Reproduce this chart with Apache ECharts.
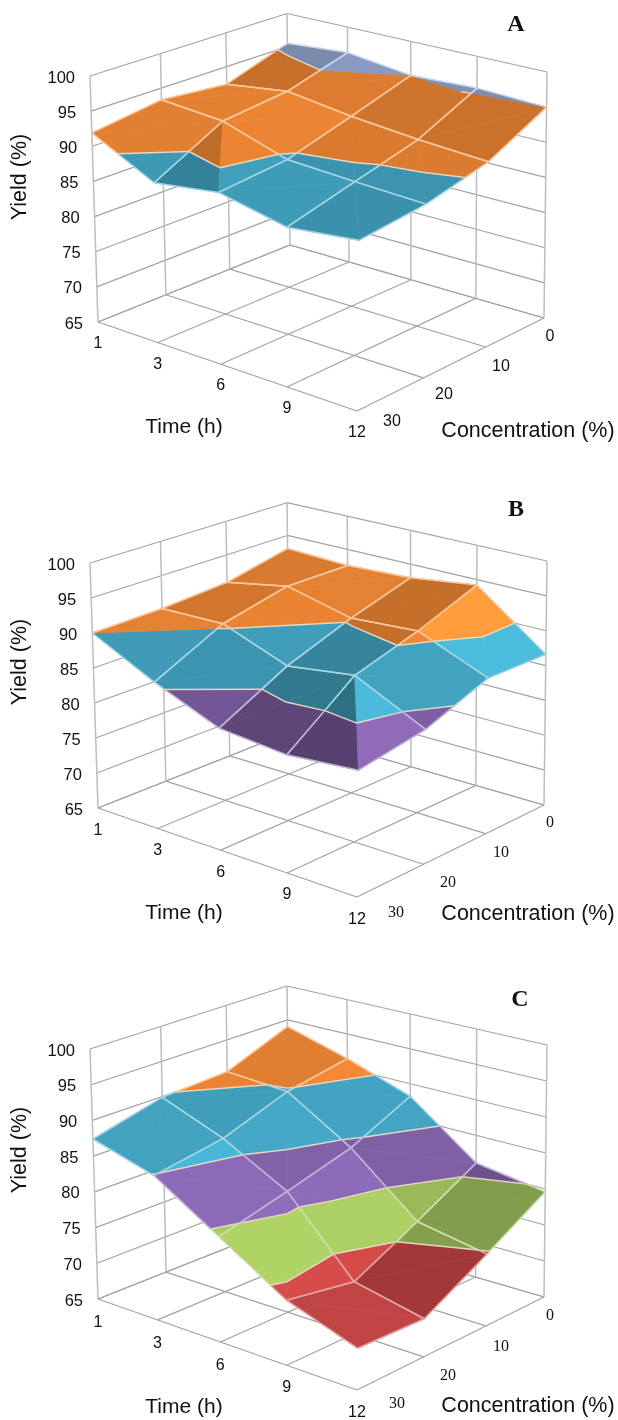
<!DOCTYPE html>
<html><head><meta charset="utf-8">
<style>html,body{margin:0;padding:0;background:#fff}#c{width:618px;height:1420px}</style>
<script src="https://cdn.jsdelivr.net/npm/echarts@6/dist/echarts.min.js"></script>
</head><body><div id="c"></div>
<script>
// Category and tick labels
const timeLabels = ['1','3','6','9','12'];
const concLabels = ['0','10','20','30'];
const yieldTicks = [65,70,75,80,85,90,95,100];
// Yield (%): one row per time, columns = concentration 0,10,20,30
const yieldA_t1  = [95.5,92.4,93.3,91.9];
const yieldA_t3  = [96.2,93.6,92.6,87.4];
const yieldA_t6  = [95.0,92.3,89.6,88.7];
const yieldA_t9  = [95.4,91.4,89.1,86.7];
const yieldA_t12 = [95.0,90.8,88.7,87.8];
const yieldB_t1  = [93.0,90.9,90.2,90.0];
const yieldB_t3  = [92.6,92.6,90.4,85.6];
const yieldB_t6  = [93.0,90.3,86.9,81.9];
const yieldB_t9  = [94.2,90.9,88.2,81.1];
const yieldB_t12 = [86.6,86.8,83.5,82.0];
const yieldC_t1  = [94.0,90.4,89.9,87.4];
const yieldC_t3  = [91.4,89.8,86.5,84.9];
const yieldC_t6  = [88.2,84.2,81.7,79.3];
const yieldC_t9  = [81.1,76.5,72.1,73.7];
const yieldC_t12 = [79.6,74.8,70.1,70.5];
const bandColors = ['#4F81BD','#BE4342','#9BBB59','#8060A6','#43A6C4','#F58A35','#97ABD4'];

// Projected box of each panel: corners [back, right, front, left]
const panels = [
 {name:'A', rows:[yieldA_t1,yieldA_t3,yieldA_t6,yieldA_t9,yieldA_t12],
  floor:[[290,245],[544,318],[357,411],[98,322]], top:[[287,13.5],[547,72],[360,149],[90,76]],
  letter:[516,25], concFont:'Liberation Sans', concSize:16,
  timeY:[344,365,386,409,433], concPos:[[550,337],[501,367],[444,395],[392,422]],
  timeTitle:[184,427], concTitle:[528,431], yTitle:[20,177]},
 {name:'B', rows:[yieldB_t1,yieldB_t3,yieldB_t6,yieldB_t9,yieldB_t12],
  floor:[[290,732],[544,805],[357,897],[98,808]], top:[[287,502.7],[547,561],[360,636],[90,563]],
  letter:[516,510], concFont:'Liberation Serif', concSize:16,
  timeY:[831,851,873,895,920], concPos:[[550,823],[501,853],[448,883],[396,913]],
  timeTitle:[184,913], concTitle:[528,914], yTitle:[20,662]},
 {name:'C', rows:[yieldC_t1,yieldC_t3,yieldC_t6,yieldC_t9,yieldC_t12],
  floor:[[290,1223],[544,1297],[357,1390],[98,1299]], top:[[287,986],[547,1045],[360,1124],[90,1049]],
  letter:[520,1000], concFont:'Liberation Serif', concSize:16,
  timeY:[1323,1344,1366,1388,1413], concPos:[[550,1316],[501,1347],[448,1376],[397,1404]],
  timeTitle:[184,1407], concTitle:[528,1406], yTitle:[20,1150]}
];

function homography(q){
  const [p0,p1,p2,p3]=q;
  const dx1=p1[0]-p2[0],dx2=p3[0]-p2[0],dx3=p0[0]-p1[0]+p2[0]-p3[0];
  const dy1=p1[1]-p2[1],dy2=p3[1]-p2[1],dy3=p0[1]-p1[1]+p2[1]-p3[1];
  const den=dx1*dy2-dx2*dy1;
  const g=(dx3*dy2-dx2*dy3)/den,h=(dx1*dy3-dx3*dy1)/den;
  const a=p1[0]-p0[0]+g*p1[0],b=p3[0]-p0[0]+h*p3[0],c=p0[0];
  const d=p1[1]-p0[1]+g*p1[1],e=p3[1]-p0[1]+h*p3[1],f=p0[1];
  return (u,v)=>{const w=g*u+h*v+1;return [(a*u+b*v+c)/w,(d*u+e*v+f)/w];};
}
const marks=[]; // fills, lines and texts in paint order
const gridColH='#a3a3a3', gridColV='#bdbdbd';
const rgb=h=>[1,3,5].map(k=>parseInt(h.substr(k,2),16));
const css=c=>'rgb('+c.map(x=>Math.round(Math.max(0,Math.min(255,x)))).join(',')+')';
function shade(hex,f){
  const e=f<=1?f:Math.min(1.13,1+(f-1)*3);
  return css(rgb(hex).map(x=>x*e));
}
const tint=(hex,m)=>css(rgb(hex).map(x=>x+(255-x)*m));
const L=(()=>{const l=[.65,-.55,.52];const n=Math.hypot(...l);return l.map(x=>x/n);})();
function clipBand(poly,lo,hi){
  const cut=(pts,val,keepAbove)=>{
    const out=[];
    for(let k=0;k<pts.length;k++){
      const a=pts[k],b=pts[(k+1)%pts.length];
      const ia=keepAbove?a[2]>=val:a[2]<=val, ib=keepAbove?b[2]>=val:b[2]<=val;
      if(ia) out.push(a);
      if(ia!==ib){const s=(val-a[2])/(b[2]-a[2]);out.push([a[0]+(b[0]-a[0])*s,a[1]+(b[1]-a[1])*s,val]);}
    }
    return out;
  };
  return cut(cut(poly,lo,true),hi,false);
}
panels.forEach(P=>{
  const Hf=homography(P.floor),Ht=homography(P.top);
  const proj=(i,j,val)=>{ // i = time index, j = concentration index
    const u=i/(timeLabels.length-1),v=j/(concLabels.length-1),w=(val-65)/35;
    const a=Hf(u,v),b=Ht(u,v);
    return [a[0]+(b[0]-a[0])*w,a[1]+(b[1]-a[1])*w];
  };
  const line=(a,b,color,width)=>marks.push({k:'l',a,b,color,width});
  const text=(x,y,t,font,size,extra)=>marks.push(Object.assign({k:'t',x,y,t,font,size,align:'center'},extra||{}));
  // walls and floor
  yieldTicks.forEach(v=>{
    line(proj(0,3,v),proj(0,0,v),gridColH,1.2);
    line(proj(0,0,v),proj(4,0,v),gridColH,1.2);
  });
  for(let j=0;j<4;j++) line(proj(0,j,65),proj(0,j,100),gridColV,1.5);
  for(let i=1;i<5;i++) line(proj(i,0,65),proj(i,0,100),gridColV,1.5);
  for(let j=0;j<4;j++) line(proj(0,j,65),proj(4,j,65),gridColH,1.2);
  for(let i=0;i<5;i++) line(proj(i,0,65),proj(i,3,65),gridColH,1.2);
  // surface
  const lines=[];
  for(let i=0;i<4;i++) for(let j=0;j<3;j++){
    const z=(a,b)=>P.rows[a][b];
    const va=[i,j,z(i,j)],vb=[i,j+1,z(i,j+1)],vc=[i+1,j+1,z(i+1,j+1)],vd=[i+1,j,z(i+1,j)];
    const quadT=(vd[2]-va[2]+vc[2]-vb[2])/2;
    const quadC=(vb[2]-va[2]+vc[2]-vd[2])/2;
    const twist=va[2]+vc[2]-vd[2]-vb[2];
    // the quad folds along its higher diagonal; only a strong fold shows in the shading
    const ridgeMain=twist>=0;
    const tris=ridgeMain?[[va,vb,vc],[va,vd,vc]]:[[vb,va,vd],[vb,vc,vd]];
    const weight=ridgeMain?Math.max(0,Math.min(1,(twist-3.6)/1.2)):0;
    const grads=ridgeMain?[[vc[2]-vb[2],vb[2]-va[2]],[vd[2]-va[2],vc[2]-vd[2]]]
                         :[[vd[2]-va[2],vb[2]-va[2]],[vc[2]-vb[2],vc[2]-vd[2]]];
    tris.forEach((tri,tk)=>{
      const gt=quadT+(grads[tk][0]-quadT)*weight;
      const gc=-Math.abs(quadC+(grads[tk][1]-quadC)*weight);
      const n=[-gt*.1,-gc*.09,1],nl=Math.hypot(...n);
      const dot=(n[0]*L[0]+n[1]*L[1]+n[2]*L[2])/nl;
      const f=.62+.62*dot;
      bandColors.forEach((col,b)=>{
        const lo=65+b*5,hi=lo+5;
        const poly=clipBand(tri,lo,hi);
        if(poly.length<3) return;
        const fill=shade(col,f);
        marks.push({k:'p',pts:poly.map(p=>proj(p[0],p[1],p[2])),fill});
        // mesh edges of this triangle (first two edges, not the diagonal), clipped to band
        const edges= [[tri[0],tri[1]],[tri[1],tri[2]]];
        edges.forEach(e=>{
          const [a,c]=e; let s0=0,s1=1;
          const d=c[2]-a[2];
          if(Math.abs(d)<1e-9){ if(a[2]<lo||a[2]>=hi) return; }
          else{
            const t1=(lo-a[2])/d,t2=(hi-a[2])/d;
            s0=Math.max(0,Math.min(t1,t2)); s1=Math.min(1,Math.max(t1,t2));
            if(s0>=s1) return;
          }
          const at=s=>proj(a[0]+(c[0]-a[0])*s,a[1]+(c[1]-a[1])*s,a[2]+d*s);
          lines.push({k:'l',a:at(s0),b:at(s1),color:tint(col,.5),width:1.5});
        });
        // contour at the upper edge of the band
        const onHi=[];
        for(let m=0;m<3;m++){
          const a=tri[m],c=tri[(m+1)%3];
          if((a[2]-hi)*(c[2]-hi)<0){const s=(hi-a[2])/(c[2]-a[2]);onHi.push(proj(a[0]+(c[0]-a[0])*s,a[1]+(c[1]-a[1])*s,hi));}
        }
        if(onHi.length===2) lines.push({k:'l',a:onHi[0],b:onHi[1],color:'rgba(232,218,196,0.95)',width:1.5});
      });
    });
  }
  lines.forEach(l=>marks.push(l));
  // labels
  const sans='Liberation Sans';
  yieldTicks.forEach(v=>{
    const p=proj(0,3,v);
    text(p[0]-15,p[1]+2,String(v),sans,16.5,{align:'right'});
  });
  timeLabels.forEach((t,i)=>text(proj(i,3,65)[0],P.timeY[i],t,sans,16));
  concLabels.forEach((t,j)=>text(P.concPos[j][0],P.concPos[j][1],t,P.concFont,P.concSize));
  text(P.timeTitle[0],P.timeTitle[1],'Time (h)',sans,21);
  text(P.concTitle[0],P.concTitle[1],'Concentration (%)',sans,21.5);
  text(P.yTitle[0],P.yTitle[1],'Yield (%)',sans,21.5,{rot:Math.PI/2});
  text(P.letter[0],P.letter[1],P.name,'Liberation Serif',24,{bold:true});
});

const chart=echarts.init(document.getElementById('c'),null,{renderer:'canvas',width:618,height:1420});
chart.setOption({
  animation:false,
  backgroundColor:'#fff',
  grid:{left:0,top:0,right:0,bottom:0},
  xAxis:{type:'value',min:0,max:618,show:false},
  yAxis:{type:'value',min:0,max:1420,inverse:true,show:false},
  series:[{
    type:'custom',clip:false,silent:true,
    data:marks.map((m,k)=>[k]),
    encode:{x:-1,y:-1},
    renderItem:(params,api)=>{
      const m=marks[api.value(0)];
      const c=p=>api.coord(p);
      if(m.k==='p') return {type:'polygon',shape:{points:m.pts.map(c)},style:{fill:m.fill,stroke:m.fill,lineWidth:.7}};
      if(m.k==='l'){const a=c(m.a),b=c(m.b);return {type:'line',shape:{x1:a[0],y1:a[1],x2:b[0],y2:b[1]},style:{stroke:m.color,lineWidth:m.width,fill:null}};}
      const p=c([m.x,m.y]);
      return {type:'text',x:p[0],y:p[1],rotation:m.rot||0,style:{text:m.t,fontFamily:m.font,fontSize:m.size,fontWeight:m.bold?'bold':'normal',fill:'#111',align:m.align,verticalAlign:'middle'}};
    }
  }]
});
</script></body></html>
